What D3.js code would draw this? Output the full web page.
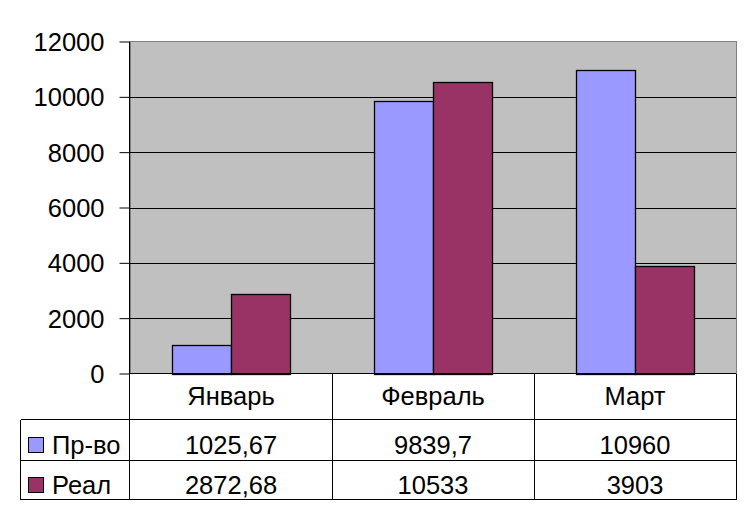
<!DOCTYPE html>
<html>
<head>
<meta charset="utf-8">
<script src="https://cdn.jsdelivr.net/npm/d3@7"></script>
<style>
  html, body { margin: 0; padding: 0; background: #fff; }
  svg { display: block; }
  text { font-family: "Liberation Sans", Arial, sans-serif; fill: #000; }
</style>
</head>
<body>
<svg id="chart" width="755" height="519"></svg>
<script>
const categories = ["Январь", "Февраль", "Март"];
const seriesNames = ["Пр-во", "Реал"];
const seriesLabels = [
  ["1025,67", "9839,7", "10960"],
  ["2872,68", "10533", "3903"]
];
const prodValues = [1025.67, 9839.7, 10960];
const realValues = [2872.68, 10533, 3903];
const seriesColors = ["#9999FF", "#993366"];
const yTicks = [0, 2000, 4000, 6000, 8000, 10000, 12000];

const svg = d3.select("#chart");
const plotL = 130, plotR = 736, plotT = 41.5, plotB = 373.5;
const tableL = 20.5, row1B = 419.5, row2B = 460, row3B = 499.5;
const fs = 25.5;

const y = d3.scaleLinear().domain([0, 12000]).range([plotB, plotT]);
const x = d3.scaleBand().domain(categories).range([plotL, plotR]).paddingInner(0).paddingOuter(0);
const xs = d3.scaleBand().domain(seriesNames).range([0, x.bandwidth()]).paddingInner(0).paddingOuter(0.725);

// plot background
svg.append("rect").attr("x", plotL).attr("y", plotT).attr("width", plotR - plotL).attr("height", plotB - plotT)
  .attr("fill", "#C0C0C0").attr("stroke", "#808080").attr("stroke-width", 1).attr("shape-rendering", "crispEdges");

// gridlines
svg.append("g").selectAll("line").data(yTicks.filter(t => t > 0 && t < 12000)).join("line")
  .attr("x1", plotL).attr("x2", plotR).attr("y1", d => Math.round(y(d)) + 0.5).attr("y2", d => Math.round(y(d)) + 0.5)
  .attr("stroke", "#000").attr("stroke-width", 1);

// y axis
const yAxis = d3.axisLeft(y).tickValues(yTicks).tickSize(10).tickPadding(15).tickFormat(d3.format("d"));
const gy = svg.append("g").attr("transform", `translate(${plotL - 0.5},0)`).call(yAxis);
gy.select(".domain").attr("stroke", "#000").attr("d", `M0,${plotT}V${row3B}`);
gy.selectAll(".tick line").attr("stroke", "#000");
gy.selectAll(".tick text").attr("font-size", fs).attr("font-family", "'Liberation Sans', Arial, sans-serif")
  .attr("fill", "#000").attr("dy", "0.35em");

// bars
const series = [prodValues, realValues];
series.forEach((vals, si) => {
  svg.append("g").selectAll("rect").data(categories).join("rect")
    .attr("x", (c) => Math.round(x(c) + xs(seriesNames[si])) + 0.5)
    .attr("y", (c, i) => Math.round(y(vals[i])) + 0.5)
    .attr("width", Math.round(xs.bandwidth()))
    .attr("height", (c, i) => Math.round(y(0)) - Math.round(y(vals[i])))
    .attr("fill", seriesColors[si]).attr("stroke", "#000").attr("stroke-width", 1.3);
});

// x axis line (top of table)
svg.append("line").attr("x1", plotL).attr("x2", plotR).attr("y1", plotB).attr("y2", plotB).attr("stroke", "#000");

// table lines
const tl = svg.append("g").attr("stroke", "#000").attr("stroke-width", 1).attr("shape-rendering", "crispEdges");
[row1B, row2B, row3B].forEach(yy => tl.append("line").attr("x1", tableL).attr("x2", plotR).attr("y1", yy).attr("y2", yy));
tl.append("line").attr("x1", tableL).attr("x2", tableL).attr("y1", row1B).attr("y2", row3B);
categories.forEach(c => {
  if (x(c) > plotL) tl.append("line").attr("x1", x(c)).attr("x2", x(c)).attr("y1", plotB).attr("y2", row3B);
});
tl.append("line").attr("x1", plotR).attr("x2", plotR).attr("y1", plotB).attr("y2", row3B);

// category labels
svg.append("g").selectAll("text").data(categories).join("text")
  .attr("x", c => x(c) + x.bandwidth() / 2).attr("y", 405)
  .attr("text-anchor", "middle").attr("font-size", fs).text(c => c);

// value rows
const rowBase = [454, 494];
seriesLabels.forEach((labels, si) => {
  svg.append("g").selectAll("text").data(categories).join("text")
    .attr("x", c => x(c) + x.bandwidth() / 2).attr("y", rowBase[si])
    .attr("text-anchor", "middle").attr("font-size", fs).text((c, i) => labels[i]);
  // legend key
  svg.append("rect").attr("x", 28.5).attr("y", rowBase[si] - 16.5).attr("width", 15).attr("height", 15)
    .attr("fill", seriesColors[si]).attr("stroke", "#000").attr("stroke-width", 1);
  svg.append("text").attr("x", 52).attr("y", rowBase[si]).attr("font-size", fs).text(seriesNames[si]);
});
</script>
</body>
</html>
